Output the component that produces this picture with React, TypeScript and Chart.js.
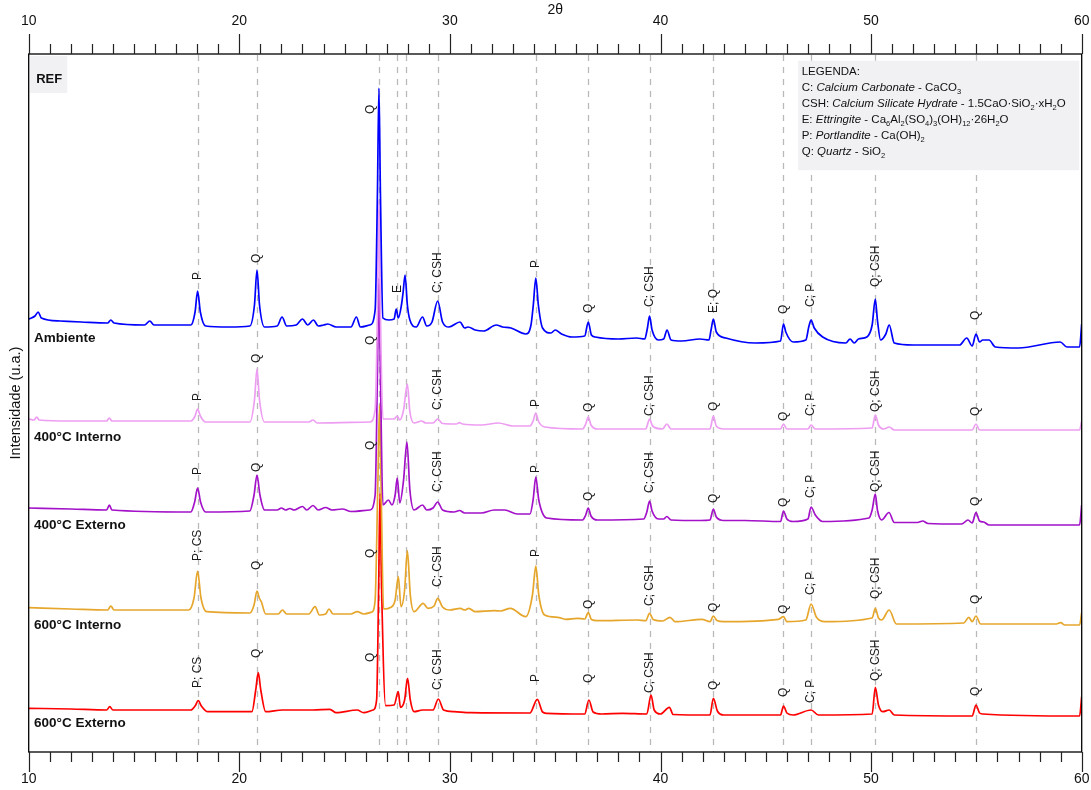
import React, { useEffect, useRef } from 'react';
import { Chart, registerables } from 'chart.js';
Chart.register(...registerables);

// ---- axis / annotation data ----
const X_MIN = 10;
const X_MAX = 60;
const Y_MIN = 0;
const Y_MAX = 698;
const majorTicks = [10, 20, 30, 40, 50, 60];
const minorStep = 1;
const peakLines = [18.02, 20.84, 26.63, 27.5, 27.9, 29.42, 34.08, 36.57, 39.48, 42.51, 45.84, 47.15, 50.2, 54.98];

const seriesNames = ['Ambiente', '400°C Interno', '400°C Externo', '600°C Interno', '600°C Externo'];
const seriesColors = ['#0000ff', '#ee9ef2', '#a312c9', '#e6a62c', '#ff0000'];
const nameLabelX = 10.25;
const nameLabelY = [414, 315, 227, 127, 29];

// ---- series values: [2θ, intensity (u.a., stacked)] ----
const ambiente: [number, number][] = [[10.0,433],[10.3,436],[10.45,440],[10.6,434],[11.5,431],[12.5,430],[13.75,429],[13.9,432],[14.05,429],[15.5,427],[15.75,431],[15.95,427],[17.7,427],[17.9,440],[18.02,461],[18.15,440],[18.4,426],[19.5,425],[20.5,426],[20.72,447],[20.84,482],[20.96,447],[21.2,425],[21.8,426],[22.03,435],[22.25,426],[22.7,427],[23.0,433],[23.25,427],[23.52,432],[23.75,426],[24.0,427],[24.2,428],[24.6,425],[25.3,425],[25.56,435],[25.75,425],[26.2,427],[26.45,442],[26.56,560],[26.63,664],[26.7,560],[26.82,434],[27.1,432],[27.35,433],[27.45,443],[27.55,434],[27.7,447],[27.78,460],[27.87,477],[27.98,447],[28.1,432],[28.4,425],[28.7,435],[28.9,426],[29.15,430],[29.42,451],[29.65,430],[29.95,425],[30.48,430],[30.7,424],[30.86,425],[31.2,422],[31.6,421],[32.2,427],[32.5,425],[32.9,424],[33.6,418],[33.85,427],[33.96,447],[34.08,474],[34.2,447],[34.4,424],[34.8,419],[35.0,422],[35.3,418],[35.8,415],[36.4,416],[36.57,430],[36.72,417],[36.9,415],[38.0,413],[38.86,414],[39.25,413],[39.38,424],[39.48,436],[39.6,422],[39.9,412],[40.15,413],[40.31,422],[40.5,412],[41.0,411],[41.88,413],[42.3,412],[42.4,422],[42.51,433],[42.65,420],[43.1,414],[44.5,409],[45.7,411],[45.84,428],[45.95,420],[46.3,410],[46.9,412],[47.05,426],[47.15,432],[47.3,424],[47.7,415],[48.8,409],[49.0,413],[49.2,409],[49.4,413],[49.8,415],[50.05,427],[50.2,453],[50.3,432],[50.45,412],[50.7,418],[50.86,427],[51.1,409],[52,407],[53,407],[54.2,407],[54.54,414],[54.8,406],[54.98,418],[55.15,410],[55.3,412],[55.6,412],[55.9,405],[57,404],[58.98,410],[59.3,405],[59.9,405],[60,428]];

const interno400: [number, number][] = [[10.0,333],[10.25,332],[10.38,335],[10.5,332],[12,331],[13.7,331],[13.83,334],[13.95,331],[17.7,331],[17.9,336],[18.02,343],[18.15,336],[18.4,330],[20.5,330],[20.72,352],[20.84,383],[20.96,352],[21.2,330],[23.3,330],[23.5,332],[23.7,329],[26.2,330],[26.45,342],[26.56,440],[26.63,552],[26.7,440],[26.82,333],[27.35,333],[27.5,336],[27.62,332],[27.8,342],[27.98,368],[28.1,340],[28.3,329],[28.66,331],[28.85,329],[29.2,329],[29.42,333],[29.65,328.5],[30.3,328],[30.45,329.3],[30.6,328],[31.5,327],[32.3,329],[33.0,326],[33.8,326],[33.95,331],[34.08,339],[34.2,331],[34.5,325],[36.3,323],[36.45,328],[36.57,335],[36.7,327],[37,323],[39.3,323],[39.48,333],[39.62,326],[40.1,323],[40.3,328],[40.5,323],[42.35,323],[42.51,336],[42.65,326],[43,323],[45.7,323],[45.84,328],[46,323],[47.0,323],[47.15,327],[47.35,323],[50.05,324],[50.2,337],[50.35,327],[50.6,323],[50.86,325],[51.1,322],[54.8,322],[54.98,328],[55.15,322],[59.9,322],[60,331]];

const externo400: [number, number][] = [[10.0,244],[12,243],[13.7,242],[13.83,247],[13.95,242],[17.7,240],[17.88,250],[18.02,264],[18.16,250],[18.4,240],[20.5,241],[20.7,257],[20.84,277],[20.98,257],[21.2,242],[21.8,242],[22.0,244],[22.2,242],[22.4,243.5],[22.6,242],[23.0,245.5],[23.2,242],[23.5,246.5],[23.75,242],[24.1,244.5],[24.4,242],[24.9,243],[25.3,240.5],[26.2,242],[26.45,257],[26.56,380],[26.63,474],[26.7,380],[26.82,247],[27.08,252],[27.25,247],[27.4,257],[27.5,274],[27.62,249],[27.8,272],[27.96,310],[28.1,262],[28.3,242],[28.7,247],[28.9,242],[29.2,244],[29.42,250],[29.65,242],[30.2,240],[30.46,241.5],[30.7,239],[31.5,239],[32.1,242],[32.6,242],[33.2,238],[33.8,238],[33.95,252],[34.08,275],[34.22,252],[34.6,234],[36.3,232],[36.45,237],[36.57,244],[36.7,236],[37.0,232],[39.2,233],[39.35,240],[39.48,251],[39.6,241],[39.9,233],[40.15,233],[40.3,235.5],[40.5,232],[41.9,231.5],[42.35,232],[42.51,243],[42.65,235],[43,231.5],[44,231.5],[45.7,230.5],[45.84,241],[46,233],[46.3,230.5],[47.0,233],[47.15,245],[47.35,237],[47.7,230.5],[49.9,234],[50.05,242],[50.2,258],[50.3,242],[50.5,232],[50.85,239.5],[51.1,229.5],[52.2,229.5],[52.45,231],[52.7,228.5],[54.3,228],[54.6,232],[54.8,229],[54.98,239.5],[55.15,231],[55.35,230],[55.6,227],[59.9,227],[60,247]];

const interno600: [number, number][] = [[10.0,144.3],[12,143],[13.75,142],[13.9,146],[14.05,142],[17.6,142],[17.85,154],[18.02,181],[18.18,154],[18.45,140.3],[20.5,139],[20.7,147],[20.84,161],[20.95,154],[21.05,150],[21.25,138],[21.85,138],[22.05,142],[22.25,138],[23.3,138],[23.6,145.3],[23.8,137],[24.1,138],[24.26,143],[24.45,138],[25.3,138],[25.6,140.3],[25.9,138],[26.3,140],[26.45,152],[26.58,270],[26.66,347],[26.73,270],[26.85,143],[27.2,144.7],[27.4,152],[27.55,175.3],[27.68,145.3],[27.85,162],[27.98,201.3],[28.12,157],[28.3,140.3],[28.73,148.7],[28.95,143.7],[29.25,146],[29.42,153.7],[29.65,145],[30,142],[30.5,143.7],[30.7,142],[30.9,143.7],[31.2,140.3],[32.1,141.3],[32.4,141],[32.87,143.7],[33.6,135.3],[33.92,157],[34.08,186],[34.22,157],[34.5,137],[35.12,134.7],[35.5,132.7],[36.05,133.7],[36.4,133],[36.57,139.3],[36.72,132.5],[37,131.3],[38.9,132],[39.3,131.3],[39.48,138.7],[39.65,132.5],[40.1,131],[40.45,134.7],[40.7,130.3],[41.97,132.7],[42.35,130.3],[42.51,136],[42.68,131.5],[43,130.3],[45.6,132.7],[45.84,135.3],[46,130.3],[46.9,132],[47.15,148],[47.4,135],[47.8,130.3],[50.05,134],[50.2,143.7],[50.35,134],[50.5,132],[50.86,142],[51.2,128],[54.4,129],[54.64,134.7],[54.8,130.3],[54.98,136],[55.2,128],[58.8,128],[59.0,129.3],[59.2,127],[59.9,127],[60,139.3]];

const externo600: [number, number][] = [[10.0,43.7],[12,43],[13.7,42],[13.85,45.3],[14.0,42],[17.7,42],[17.9,46],[18.05,51.3],[18.2,46],[18.5,40.3],[20.6,40.3],[20.78,62],[20.9,79.3],[21.02,62],[21.25,40.3],[22.05,42],[23.5,42],[24.3,42.7],[24.6,39.3],[25.6,42],[25.9,39.3],[26.35,42],[26.52,52],[26.62,170],[26.68,259],[26.75,170],[26.95,46.3],[27.35,47],[27.55,60.3],[27.65,44.7],[27.85,52],[27.99,73.7],[28.12,52],[28.3,40.3],[28.7,42],[29.2,42],[29.45,53],[29.7,42],[30.2,40.3],[31,39.3],[33.8,39],[34.15,52.7],[34.4,40],[34.6,38.7],[36.4,38],[36.6,52],[36.8,40],[37.2,38],[38.2,38.7],[39.35,38],[39.55,57],[39.7,42],[40.0,38],[40.42,44.7],[40.6,37.5],[42.35,37],[42.51,53.7],[42.7,41],[43,37],[45.7,37],[45.84,46],[46.0,39],[46.3,37],[47.15,42],[47.5,37],[50.05,38],[50.2,64.7],[50.35,47],[50.55,40.3],[50.86,42],[51.1,37],[54.8,36],[54.98,47],[55.15,39],[55.3,38],[59.9,36],[60,55.3]];

// ---- peak labels: [2θ, text, intensity at label start] ----
const ambienteLabels: [number, string, number][] = [[18.02,'P',472],[20.84,'Q',489],[26.25,'Q',638],[27.5,'E',459],[29.42,'C; CSH',459],[34.08,'P',484],[36.57,'Q',439],[39.48,'C; CSH',445],[42.51,'E; Q',439],[45.84,'Q',438],[47.15,'C; P',445],[50.2,'Q; CSH',465],[54.98,'Q',432]];
const interno400Labels: [number, string, number][] = [[18.02,'P',351],[20.84,'Q',389],[26.25,'Q',407],[29.42,'C; CSH',342],[34.08,'P',345],[36.57,'Q',340],[39.48,'C; CSH',336],[42.51,'Q',341],[45.84,'Q',331],[47.15,'C; P',336],[50.2,'Q; CSH',340],[54.98,'Q',336]];
const externo400Labels: [number, string, number][] = [[18.02,'P',277],[20.84,'Q',280],[26.25,'Q',302],[29.42,'C; CSH',260],[34.08,'P',279],[36.57,'Q',251],[39.48,'C; CSH',259],[42.51,'Q',249],[45.84,'Q',245],[47.15,'C; P',254],[50.2,'Q; CSH',260],[54.98,'Q',246]];
const interno600Labels: [number, string, number][] = [[18.02,'P; CS',191],[20.84,'Q',182],[26.25,'Q',194],[29.42,'C; CSH',165],[34.08,'P',195],[36.57,'Q',143],[39.48,'C; CSH',146],[42.51,'Q',140],[45.84,'Q',138],[47.15,'C; P',157],[50.2,'Q; CSH',153],[54.98,'Q',148]];
const externo600Labels: [number, string, number][] = [[18.02,'P; CS',64],[20.84,'Q',94],[26.25,'Q',90],[29.42,'C; CSH',62],[34.08,'P',70],[36.57,'Q',69],[39.48,'C; CSH',59],[42.51,'Q',62],[45.84,'Q',55],[47.15,'C; P',49],[50.2,'Q; CSH',71],[54.98,'Q',56]];

const seriesData = [ambiente, interno400, externo400, interno600, externo600];
const seriesLabels = [ambienteLabels, interno400Labels, externo400Labels, interno600Labels, externo600Labels];

// ---- legend text: segments [text, style] (n normal, i italic, s subscript) ----
const legendTitle = 'LEGENDA:';
const legendLines: [string, string][][] = [
  [['C: ', 'n'], ['Calcium Carbonate', 'i'], [' - CaCO', 'n'], ['3', 's']],
  [['CSH: ', 'n'], ['Calcium Silicate Hydrate', 'i'], [' - 1.5CaO·SiO', 'n'], ['2', 's'], ['·xH', 'n'], ['2', 's'], ['O', 'n']],
  [['E: ', 'n'], ['Ettringite', 'i'], [' - Ca', 'n'], ['6', 's'], ['Al', 'n'], ['2', 's'], ['(SO', 'n'], ['4', 's'], [')', 'n'], ['3', 's'], ['(OH)', 'n'], ['12', 's'], ['·26H', 'n'], ['2', 's'], ['O', 'n']],
  [['P: ', 'n'], ['Portlandite', 'i'], [' - Ca(OH)', 'n'], ['2', 's']],
  [['Q: ', 'n'], ['Quartz', 'i'], [' - SiO', 'n'], ['2', 's']],
];

const FONT = 'Arial, "Liberation Sans", Helvetica, sans-serif';

const decorPlugin = {
  id: 'xrdDecor',
  beforeDatasetsDraw(chart: any) {
    const { ctx, chartArea: a } = chart;
    const xs = chart.scales.x;
    ctx.save();
    ctx.strokeStyle = '#b9b9b9';
    ctx.lineWidth = 1.3;
    ctx.setLineDash([6, 6]);
    for (const p of peakLines) {
      const px = Math.round(xs.getPixelForValue(p)) + 0.5;
      ctx.beginPath();
      ctx.moveTo(px, a.top + 1);
      ctx.lineTo(px, a.bottom);
      ctx.stroke();
    }
    ctx.restore();
  },
  afterDatasetsDraw(chart: any) {
    const { ctx, chartArea: a } = chart;
    const xs = chart.scales.x;
    const ys = chart.scales.y;
    ctx.save();

    // frame
    ctx.strokeStyle = '#000';
    ctx.lineWidth = 1.3;
    ctx.setLineDash([]);
    ctx.strokeRect(a.left, a.top, a.right - a.left, a.bottom - a.top);

    // ticks
    ctx.lineWidth = 1.2;
    ctx.strokeStyle = '#222';
    for (let v = X_MIN; v <= X_MAX; v += minorStep) {
      const px = Math.round(xs.getPixelForValue(v)) + 0.5;
      const major = majorTicks.includes(v);
      const len = major ? 20 : 10;
      ctx.beginPath();
      ctx.moveTo(px, a.top);
      ctx.lineTo(px, a.top - len);
      ctx.moveTo(px, a.bottom);
      ctx.lineTo(px, a.bottom + len);
      ctx.stroke();
    }
    ctx.fillStyle = '#111';
    ctx.font = `14px ${FONT}`;
    ctx.textAlign = 'center';
    ctx.textBaseline = 'middle';
    for (const v of majorTicks) {
      const px = xs.getPixelForValue(v);
      ctx.fillText(String(v), px, a.top - 33);
      ctx.fillText(String(v), px, a.bottom + 27);
    }
    // axis titles
    ctx.fillText('2θ', (a.left + a.right) / 2, 10);
    ctx.save();
    ctx.translate(16, (a.top + a.bottom) / 2);
    ctx.rotate(-Math.PI / 2);
    ctx.font = `14.5px ${FONT}`;
    ctx.fillText('Intensidade (u.a.)', 0, 0);
    ctx.restore();

    // peak labels
    ctx.font = `12px ${FONT}`;
    ctx.fillStyle = '#1a1a1a';
    ctx.textAlign = 'left';
    ctx.textBaseline = 'middle';
    for (const labels of seriesLabels) {
      for (const [pos, txt, iv] of labels) {
        ctx.save();
        ctx.translate(xs.getPixelForValue(pos), ys.getPixelForValue(iv));
        ctx.rotate(-Math.PI / 2);
        ctx.fillText(txt, 0, 0);
        ctx.restore();
      }
    }

    // series names
    ctx.font = `bold 13.5px ${FONT}`;
    ctx.fillStyle = '#111';
    seriesNames.forEach((n, i) => {
      ctx.fillText(n, xs.getPixelForValue(nameLabelX), ys.getPixelForValue(nameLabelY[i]));
    });

    // REF box
    ctx.fillStyle = '#f1f0f3';
    ctx.fillRect(a.left + 1.5, a.top + 2, 37, 37);
    ctx.fillStyle = '#111';
    ctx.font = `bold 13px ${FONT}`;
    ctx.fillText('REF', a.left + 7.5, a.top + 25.5);

    // legend box
    const bx = a.right - 283.5;
    const by = a.top + 6.7;
    ctx.fillStyle = '#f1f0f3';
    ctx.fillRect(bx, by, 281, 109.5);
    ctx.fillStyle = '#111';
    const tx = bx + 3.5;
    const baseFont = `11.5px ${FONT}`;
    ctx.font = baseFont;
    ctx.textBaseline = 'alphabetic';
    ctx.fillText(legendTitle, tx, by + 14);
    legendLines.forEach((segs, i) => {
      let cx = tx;
      const ly = by + 30 + i * 16;
      for (const [t, st] of segs) {
        if (st === 'i') ctx.font = `italic 11.5px ${FONT}`;
        else if (st === 's') ctx.font = `7.5px ${FONT}`;
        else ctx.font = baseFont;
        ctx.fillText(t, cx, st === 's' ? ly + 3 : ly);
        cx += ctx.measureText(t).width;
      }
    });

    ctx.restore();
  },
};

export default function App() {
  const ref = useRef<HTMLCanvasElement | null>(null);
  useEffect(() => {
    if (!ref.current) return;
    const chart = new Chart(ref.current, {
      type: 'line',
      data: {
        datasets: seriesData.map((d, i) => ({
          label: seriesNames[i],
          data: d.map(([x, y]) => ({ x, y })),
          borderColor: seriesColors[i],
          backgroundColor: seriesColors[i],
          borderWidth: 1.7,
          pointRadius: 0,
          fill: false,
          cubicInterpolationMode: 'monotone' as const,
        })),
      },
      options: {
        responsive: false,
        animation: false,
        layout: { padding: { left: 28.7, right: 9.3, top: 54, bottom: 38 } },
        plugins: { legend: { display: false }, tooltip: { enabled: false } },
        scales: {
          x: { type: 'linear', min: X_MIN, max: X_MAX, display: false },
          y: { type: 'linear', min: Y_MIN, max: Y_MAX, display: false },
        },
      },
      plugins: [decorPlugin],
    });
    return () => chart.destroy();
  }, []);
  return (
    <div style={{ position: 'fixed', left: 0, top: 0, width: 1091, height: 790, background: '#fff' }}>
      <canvas ref={ref} width={1091} height={790} />
    </div>
  );
}
